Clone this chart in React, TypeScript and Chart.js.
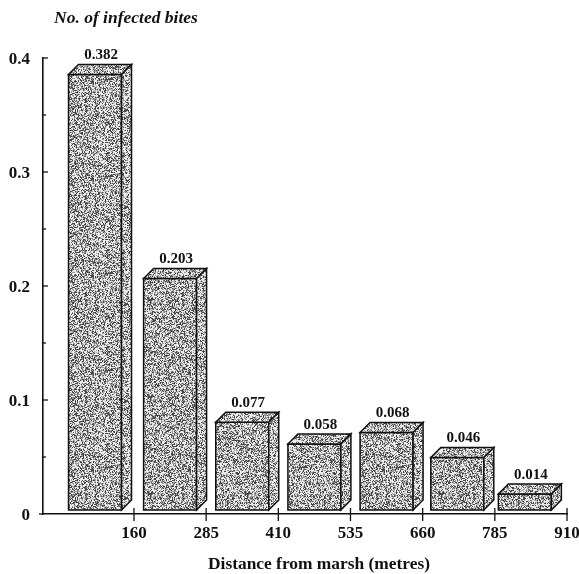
import React, { useEffect, useRef } from "react";
import { Chart, registerables } from "chart.js";

Chart.register(...registerables);

const binCentres = [92.5, 222.5, 347.5, 472.5, 597.5, 720, 837];
const infectedBites = [0.382, 0.203, 0.077, 0.058, 0.068, 0.046, 0.014];
const distanceTicks = [160, 285, 410, 535, 660, 785, 910];
const yTitle = "No. of infected bites";
const xTitle = "Distance from marsh (metres)";

const SERIF = '"Liberation Serif", "Times New Roman", serif';
const DEPTH = 10;
const LIFT = 4;

// Stipple print texture: a deterministic tile of dark specks.
function stipple(ctx: CanvasRenderingContext2D, density: number, seed: number) {
  const size = 97;
  const c = document.createElement("canvas");
  c.width = size;
  c.height = size;
  const t = c.getContext("2d")!;
  const img = t.createImageData(size, size);
  let s = seed;
  for (let i = 0; i < size * size; i++) {
    s = (s * 1664525 + 1013904223) >>> 0;
    const r = (s >>> 16) / 65536;
    const v = r < density ? 70 : r < density + 0.3 ? 155 : 235;
    img.data[i * 4] = v;
    img.data[i * 4 + 1] = v;
    img.data[i * 4 + 2] = v;
    img.data[i * 4 + 3] = 255;
  }
  t.putImageData(img, 0, 0);
  return ctx.createPattern(c, "repeat")!;
}

const printPlugin = {
  id: "print3d",
  afterDatasetsDraw(chart: any) {
    const { ctx } = chart;
    const front = stipple(ctx, 0.27, 12345);
    const top = stipple(ctx, 0.25, 777);
    const side = stipple(ctx, 0.22, 4242);
    const meta = chart.getDatasetMeta(0);
    ctx.save();
    ctx.strokeStyle = "#111";
    ctx.lineWidth = 1.5;
    ctx.lineJoin = "miter";
    meta.data.forEach((el: any, i: number) => {
      const w = el.width;
      const l = el.x - w / 2;
      const r = el.x + w / 2;
      const y0 = el.y - LIFT;
      const b = el.base - LIFT;
      const face = (pts: number[][], fill: CanvasPattern) => {
        ctx.beginPath();
        pts.forEach((p, k) => (k ? ctx.lineTo(p[0], p[1]) : ctx.moveTo(p[0], p[1])));
        ctx.closePath();
        ctx.fillStyle = fill;
        ctx.fill();
        ctx.stroke();
      };
      face([[l, b], [r, b], [r, y0], [l, y0]], front);
      face([[l, y0], [r, y0], [r + DEPTH, y0 - DEPTH], [l + DEPTH, y0 - DEPTH]], top);
      face([[r, b], [r + DEPTH, b - DEPTH], [r + DEPTH, y0 - DEPTH], [r, y0]], side);
      ctx.fillStyle = "#111";
      ctx.font = `bold 15px ${SERIF}`;
      ctx.textAlign = "center";
      ctx.textBaseline = "middle";
      ctx.fillText(infectedBites[i].toFixed(3), el.x + 6, y0 - 19);
    });
    ctx.restore();
  },
  afterDraw(chart: any) {
    const { ctx, scales, chartArea } = chart;
    ctx.save();
    ctx.strokeStyle = "#111";
    ctx.lineWidth = 1.3;
    scales.y.ticks.forEach((t: any) => {
      const y = scales.y.getPixelForValue(t.value);
      const major = Math.abs(t.value * 10 - Math.round(t.value * 10)) < 1e-6;
      ctx.beginPath();
      ctx.moveTo(chartArea.left - (t.value === 0 ? 4 : 0), y);
      ctx.lineTo(chartArea.left + (t.value === 0 ? 0 : major ? 5 : 3), y);
      ctx.stroke();
    });
    scales.x.ticks.forEach((t: any) => {
      const x = scales.x.getPixelForValue(t.value);
      ctx.beginPath();
      ctx.moveTo(x, chartArea.bottom - 6);
      ctx.lineTo(x, chartArea.bottom + 7);
      ctx.stroke();
    });
    ctx.fillStyle = "#111";
    ctx.textAlign = "left";
    ctx.textBaseline = "middle";
    ctx.font = `italic bold 17.5px ${SERIF}`;
    ctx.fillText(yTitle, 54, 18);
    ctx.textAlign = "center";
    ctx.font = `bold 17.4px ${SERIF}`;
    ctx.fillText(xTitle, 319, 565);
    ctx.restore();
  },
};

export default function App() {
  const ref = useRef<HTMLCanvasElement>(null);
  useEffect(() => {
    const chart = new Chart(ref.current!, {
      type: "bar",
      data: {
        datasets: [
          {
            data: binCentres.map((x, i) => ({ x, y: infectedBites[i] })),
            backgroundColor: "transparent",
            borderWidth: 0,
            barThickness: 53,
          },
        ],
      },
      plugins: [printPlugin],
      options: {
        animation: false,
        responsive: false,
        devicePixelRatio: 1,
        layout: { padding: { top: 58, right: 12, left: 0, bottom: 0 } },
        plugins: { legend: { display: false }, tooltip: { enabled: false }, title: { display: false } },
        scales: {
          x: {
            type: "linear",
            offset: false,
            min: 2.4,
            max: 910,
            afterBuildTicks: (s: any) => {
              s.ticks = distanceTicks.map((value) => ({ value }));
            },
            afterFit: (s: any) => {
              s.height = 60;
              s.paddingRight = 0;
              s.paddingLeft = 0;
            },
            grid: { display: false, offset: false },
            border: { display: true, color: "#111", width: 1.6 },
            ticks: {
              autoSkip: false,
              maxRotation: 0,
              padding: 1,
              color: "#111",
              font: { family: SERIF, size: 17, weight: "bold" },
              callback: (v: any) => String(v),
            },
          },
          y: {
            min: 0,
            max: 0.4,
            afterFit: (s: any) => {
              s.width = 43;
              s.paddingTop = 0;
              s.paddingBottom = 0;
            },
            grid: { display: false },
            border: { display: true, color: "#111", width: 1.6 },
            ticks: {
              stepSize: 0.05,
              padding: 5,
              labelOffset: 1.5,
              color: "#111",
              font: { family: SERIF, size: 17, weight: "bold" },
              callback: (v: any) => {
                const n = Number(v);
                if (Math.abs(n * 10 - Math.round(n * 10)) > 1e-6) return "";
                return n === 0 ? "0" : n.toFixed(1);
              },
            },
          },
        },
      },
    } as any);
    return () => chart.destroy();
  }, []);
  return (
    <div style={{ position: "absolute", left: 0, top: 0, width: 579, height: 574, background: "#fff" }}>
      <canvas ref={ref} width={579} height={574} style={{ display: "block" }} />
    </div>
  );
}
